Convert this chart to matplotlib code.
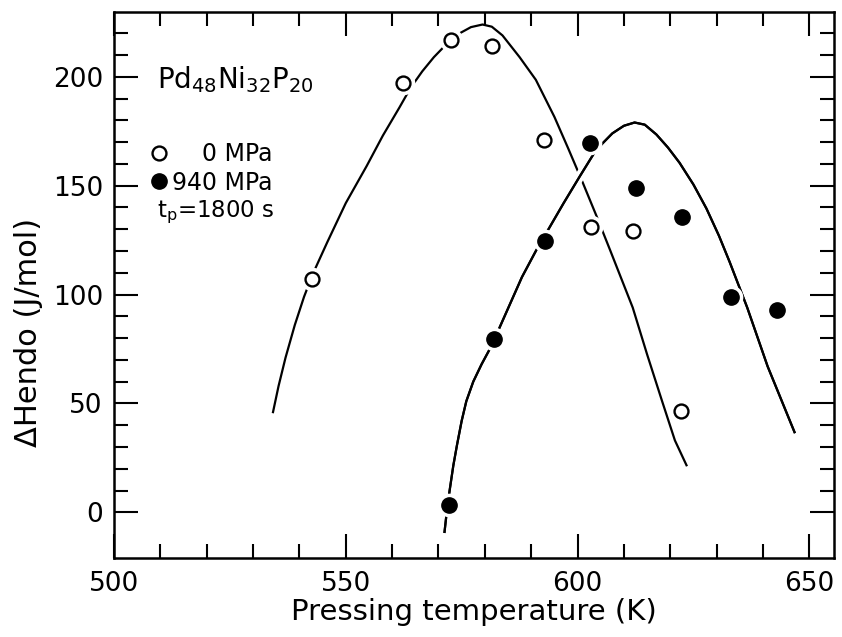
import matplotlib
matplotlib.use("Agg")
import matplotlib.pyplot as plt
import matplotlib.patheffects as pe
from matplotlib.ticker import MultipleLocator

plt.rcParams['font.family'] = 'DejaVu Sans'
plt.rcParams['mathtext.fontset'] = 'dejavusans'

# measured points
t_0mpa = [542.7, 562.3, 572.6, 581.5, 592.7, 603.0, 612.0, 622.4]
h_0mpa = [107, 197, 217, 214, 171, 131, 129, 46.5]
t_940mpa = [572.2, 582.0, 593.0, 602.6, 612.5, 622.6, 633.0, 643.0]
h_940mpa = [3.5, 79.5, 124.6, 169.5, 149, 135.6, 99, 93]

# guide curves
curve_t_0mpa = [534.3, 535.5, 537.0, 539.0, 541.0, 543.0, 546.0, 550.0,
                554.5, 558.0, 561.6, 564.0, 566.5, 569.0, 571.5, 574.6,
                577.0, 579.5, 581.5, 583.8, 587.5, 591.0, 595.0, 598.0,
                601.0, 604.0, 607.0, 611.9, 615.0, 618.3, 621.0, 623.5]
curve_h_0mpa = [46, 58, 71, 86, 99, 110, 124, 142,
                159, 173, 186, 195, 202.5, 209, 214.5, 220,
                222.8, 224, 223, 219, 209, 198.6, 181.6, 167,
                152, 136.5, 120.5, 94, 72.5, 50.6, 33, 21.6]
curve_t_940mpa = [571.3, 571.8, 572.4, 573.2, 574.0, 575.0, 576.0, 577.5,
                  579.3, 581.2, 583.0, 585.5, 588.0, 591.0, 594.0, 597.0,
                  600.4, 604.0, 607.5, 610.0, 612.3, 614.5, 617.0, 619.5,
                  622.0, 625.0, 627.8, 630.5, 632.8, 636.6, 641.0, 646.8]
curve_h_940mpa = [-9, 0.5, 10, 21.5, 31, 42, 51, 60,
                  68, 75.5, 84, 96, 108, 120, 131, 142,
                  154, 166.4, 174, 177.5, 179, 178, 173.5, 167.5,
                  160.5, 150.5, 139.5, 127, 115, 94, 67, 36.8]

y_minor = [v for v in range(10, 230, 10) if v % 50]

fig = plt.figure(figsize=(8.42, 6.37), dpi=100)
ax = fig.add_axes([0.1354, 0.124, 0.855, 0.857])

ax.plot(curve_t_0mpa, curve_h_0mpa, color='black', lw=1.6, zorder=2)
ax.plot(curve_t_940mpa, curve_h_940mpa, color='black', lw=1.6, zorder=2.5,
        path_effects=[pe.withStroke(linewidth=7, foreground='white'), pe.Normal()])

# white halos so the curves break around the symbols
ax.plot(t_0mpa, h_0mpa, 'o', ms=17, mfc='white', mec='none', zorder=3)
ax.plot(t_940mpa, h_940mpa, 'o', ms=17, mfc='white', mec='none', zorder=3)

ax.plot(t_0mpa, h_0mpa, 'o', ms=10, mfc='white', mec='black', mew=1.7,
        zorder=4, label='\u2007\u20070 MPa')
ax.plot(t_940mpa, h_940mpa, 'o', ms=11, mfc='black', mec='black', mew=1,
        zorder=4, label='940 MPa')

ax.set_xlim(500, 655.3)
ax.set_ylim(-21, 229.7)
ax.xaxis.set_major_locator(MultipleLocator(50))
ax.xaxis.set_minor_locator(MultipleLocator(10))
ax.set_yticks([0, 50, 100, 150, 200])
ax.set_yticks(y_minor, minor=True)
ax.tick_params(which='both', direction='in', top=True, right=True, width=1.5,
               labelsize=19)
ax.tick_params(which='major', length=17)
ax.tick_params(which='minor', length=10)
ax.tick_params(axis='x', pad=9)
ax.tick_params(axis='y', pad=8)
for s in ax.spines.values():
    s.set_linewidth(1.8)

ax.set_xlabel('Pressing temperature (K)', fontsize=21, labelpad=1)
ax.set_ylabel('\u0394Hendo (J/mol)', fontsize=22)
ax.yaxis.set_label_coords(-0.098, 0.414)

ax.text(0.06, 0.861, r'Pd$_{48}$Ni$_{32}$P$_{20}$', transform=ax.transAxes,
        fontsize=20, va='baseline', ha='left')
ax.text(0.06, 0.625, r'$\mathrm{t_p}$=1800 s', transform=ax.transAxes,
        fontsize=16.5, va='baseline', ha='left')

ax.legend(loc='upper left', bbox_to_anchor=(0.052, 0.762), frameon=False,
          fontsize=17, handlelength=0.6, handletextpad=0.25, labelspacing=0.2,
          borderpad=0, borderaxespad=0)

fig.savefig('out.png', dpi=100)
